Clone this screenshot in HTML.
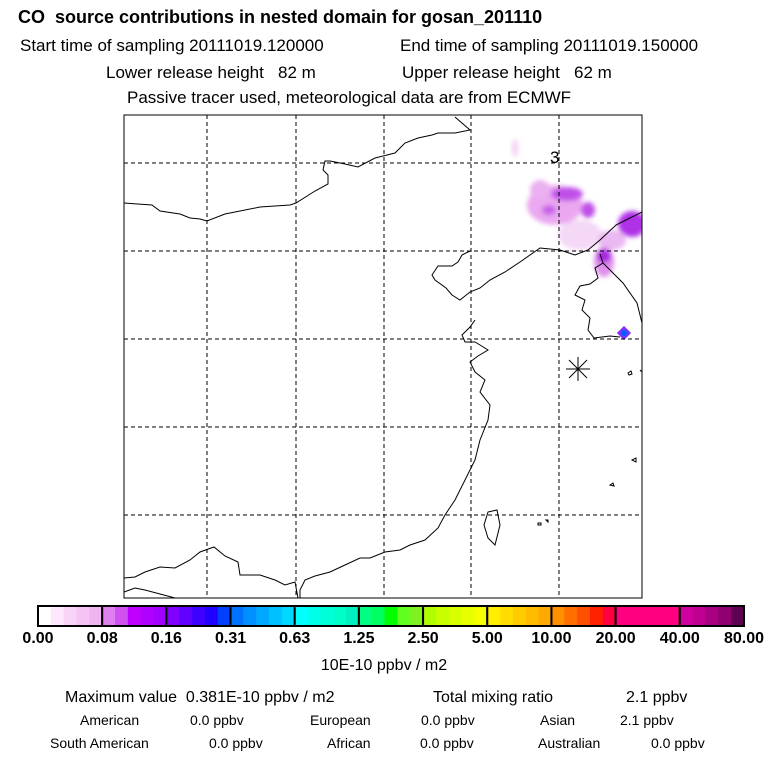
<!DOCTYPE html>
<html><head><meta charset="utf-8"><style>
body{margin:0;background:#fff;width:768px;height:768px;overflow:hidden;font-family:"Liberation Sans",sans-serif}
svg{position:absolute;left:0;top:0}
svg text{white-space:pre}
</style></head><body>
<svg width="768" height="768" font-family="Liberation Sans, sans-serif">
<defs><filter id="bl" x="-50%" y="-50%" width="200%" height="200%"><feGaussianBlur stdDeviation="2.5"/></filter>
<clipPath id="mc"><rect x="124" y="115" width="518" height="483"/></clipPath></defs>
<g>
<text x="18" y="23" font-size="18" font-weight="bold">CO  source contributions in nested domain for gosan_201110</text>
<text x="20" y="51" font-size="17">Start time of sampling 20111019.120000</text>
<text x="400" y="51" font-size="17">End time of sampling 20111019.150000</text>
<text x="106" y="78" font-size="17">Lower release height   82 m</text>
<text x="402" y="78" font-size="17">Upper release height   62 m</text>
<text x="127" y="103" font-size="17">Passive tracer used, meteorological data are from ECMWF</text>
</g>
<g clip-path="url(#mc)">
<g filter="url(#bl)">
<ellipse cx="515" cy="148" rx="3" ry="9" fill="#f4d0f4"/>
<ellipse cx="555" cy="205" rx="28" ry="20" fill="#eaa8f0"/>
<ellipse cx="540" cy="190" rx="10" ry="10" fill="#eab0f0"/>
<ellipse cx="567" cy="194" rx="16" ry="7" fill="#c050e8"/>
<ellipse cx="549" cy="210" rx="7" ry="5" fill="#c860e8"/>
<ellipse cx="588" cy="210" rx="7" ry="8" fill="#c050e8"/>
<ellipse cx="580" cy="235" rx="22" ry="15" fill="#f4d8f6"/>
<ellipse cx="632" cy="224" rx="14" ry="13" fill="#b030e8"/>
<ellipse cx="612" cy="240" rx="14" ry="10" fill="#eab8f2"/>
<ellipse cx="604" cy="262" rx="10" ry="15" fill="#e090ec"/>
<ellipse cx="604" cy="256" rx="7" ry="7" fill="#a828e0"/>
</g>
<rect x="619" y="328" width="10" height="10" transform="rotate(45 624 333)" fill="#8030ff"/>
<circle cx="624" cy="333" r="3" fill="#0060ff"/>
<g fill="none" stroke="#000" stroke-width="1">
<polyline points="124,203 152,205 160,211 180,214 190,218 200,219 207,221 225,214 260,207 290,205 296,203 315,191 328,184 328,175 323,170 325,161 330,161 345,164 358,167 375,158 395,153 405,143 418,138 432,135 438,133 455,133 470,130 455,117"/>
<polyline points="470,251 462,255 458,262 452,266 438,266 432,275 435,280 446,288 452,295 460,300 470,292 480,288 490,280 505,272 520,262 540,248 560,250 575,255 588,250 600,240 616,225 630,218 642,212"/>
<polyline points="600,254 603,263 613,273 623,283 637,303 642,323"/>
<polyline points="603,263 595,268 598,278 590,284 580,286 575,295 585,300 582,310 590,318 588,330 594,338 610,336 620,337"/>
<polyline points="475,320 470,327 462,335 465,342 475,342 480,345 488,350 478,356 470,362 475,372 485,380 480,392 490,405 488,420 480,440 475,460 465,480 455,500 445,515 438,528 425,540 410,545 400,550 385,552 370,558 360,558 345,565 330,572 315,576 305,580 300,590 300,598"/>
<polyline points="124,578 135,577 145,572 160,567 175,568 190,560 200,552 214,547 225,556 238,562 240,575 260,575 275,580 285,585 295,582 298,598"/>
<polyline points="124,592 135,588 145,590 160,594 175,598"/>
<path d="M488,512 L497,510 L500,525 L495,545 L488,538 L484,525 Z"/>
<path d="M628,373 l3,-2 1,3 -3,1 z M632,460 l4,-2 0,4 z M610,485 l3,-2 1,3 z M538,523 l3,0 0,2 -3,0 z M546,520 l2,0 0,2 z M640,370 l2,2"/>
</g>
</g>
<g stroke="#000" stroke-width="1" stroke-dasharray="4,3">
<line x1="207" y1="115" x2="207" y2="598"/><line x1="296" y1="115" x2="296" y2="598"/><line x1="384" y1="115" x2="384" y2="598"/><line x1="471" y1="115" x2="471" y2="598"/><line x1="559" y1="115" x2="559" y2="598"/>
<line x1="124" y1="163" x2="642" y2="163"/><line x1="124" y1="251" x2="642" y2="251"/><line x1="124" y1="339" x2="642" y2="339"/><line x1="124" y1="427" x2="642" y2="427"/><line x1="124" y1="515" x2="642" y2="515"/>
</g>
<rect x="124" y="115" width="518" height="483" fill="none" stroke="#000" stroke-width="1"/>
<text x="550" y="163" font-size="17">3</text>
<g stroke="#000">
<line x1="566" y1="369" x2="590" y2="369"/><line x1="578" y1="357" x2="578" y2="381"/><line x1="569" y1="360" x2="587" y2="378"/><line x1="569" y1="378" x2="587" y2="360"/></g>
<g id="cbar"></g>
<text x="384" y="670" font-size="16" text-anchor="middle">10E-10 ppbv / m2</text>
<g font-size="16">
<text x="65" y="702">Maximum value  0.381E-10 ppbv / m2</text><text x="433" y="702">Total mixing ratio</text><text x="626" y="702">2.1 ppbv</text></g>
<g font-size="14">
<text x="80" y="725">American</text><text x="190" y="725">0.0 ppbv</text><text x="310" y="725">European</text><text x="421" y="725">0.0 ppbv</text><text x="540" y="725">Asian</text><text x="620" y="725">2.1 ppbv</text>
<text x="50" y="748">South American</text><text x="209" y="748">0.0 ppbv</text><text x="327" y="748">African</text><text x="420" y="748">0.0 ppbv</text><text x="538" y="748">Australian</text><text x="651" y="748">0.0 ppbv</text></g>
</svg>
<script>
const tickLabels=["0.00","0.08","0.16","0.31","0.63","1.25","2.50","5.00","10.00","20.00","40.00","80.00"];
const segColors=[["#ffffff","#fde8fd","#f9d4f9","#f5c4f5","#f0b4f0"],["#e080f0","#d050f0","#c000ff","#b000ff","#a000ff"],["#8000ff","#6000ff","#4000ff","#2000ff","#0040ff"],["#0070ff","#0090ff","#00a8ff","#00c0ff","#00d8ff"],["#00ffff","#00ffe8","#00ffd8","#00ffc8","#00f0c0"],["#00ff80","#00ff60","#00ff00","#60ff20","#80f020"],["#b0ff00","#c8ff00","#d8ff00","#e8ff00","#f8ff00"],["#ffee00","#ffdd00","#ffcc00","#ffbb00","#ffaa00"],["#ff9000","#ff7000","#ff5000","#ff2000","#ff0040"],["#ff0080","#ff0080","#ff0080","#ff0080","#ff0080"],["#d000a0","#c00090","#a80080","#900070","#600050"]];
const NS="http://www.w3.org/2000/svg",g=document.getElementById('cbar');
const x0=38,x1=744,y0=606,h=20,sw=(x1-x0)/segColors.length;
segColors.forEach((cs,i)=>{cs.forEach((c,j)=>{const r=document.createElementNS(NS,'rect');
r.setAttribute('x',x0+i*sw+j*sw/cs.length);r.setAttribute('y',y0);r.setAttribute('width',sw/cs.length+0.5);r.setAttribute('height',h);r.setAttribute('fill',c);


g.appendChild(r);});
const b=document.createElementNS(NS,'rect');b.setAttribute('x',x0+i*sw);b.setAttribute('y',y0);b.setAttribute('width',sw);b.setAttribute('height',h);b.setAttribute('fill','none');b.setAttribute('stroke','#000');b.setAttribute('stroke-width','2');


g.appendChild(b);});
tickLabels.forEach((t,i)=>{const tx=document.createElementNS(NS,'text');tx.setAttribute('x',x0+i*sw);tx.setAttribute('y',643);tx.setAttribute('font-size','16');tx.setAttribute('font-weight','bold');tx.setAttribute('text-anchor','middle');tx.textContent=t;


g.appendChild(tx);});
</script>
</body></html>
